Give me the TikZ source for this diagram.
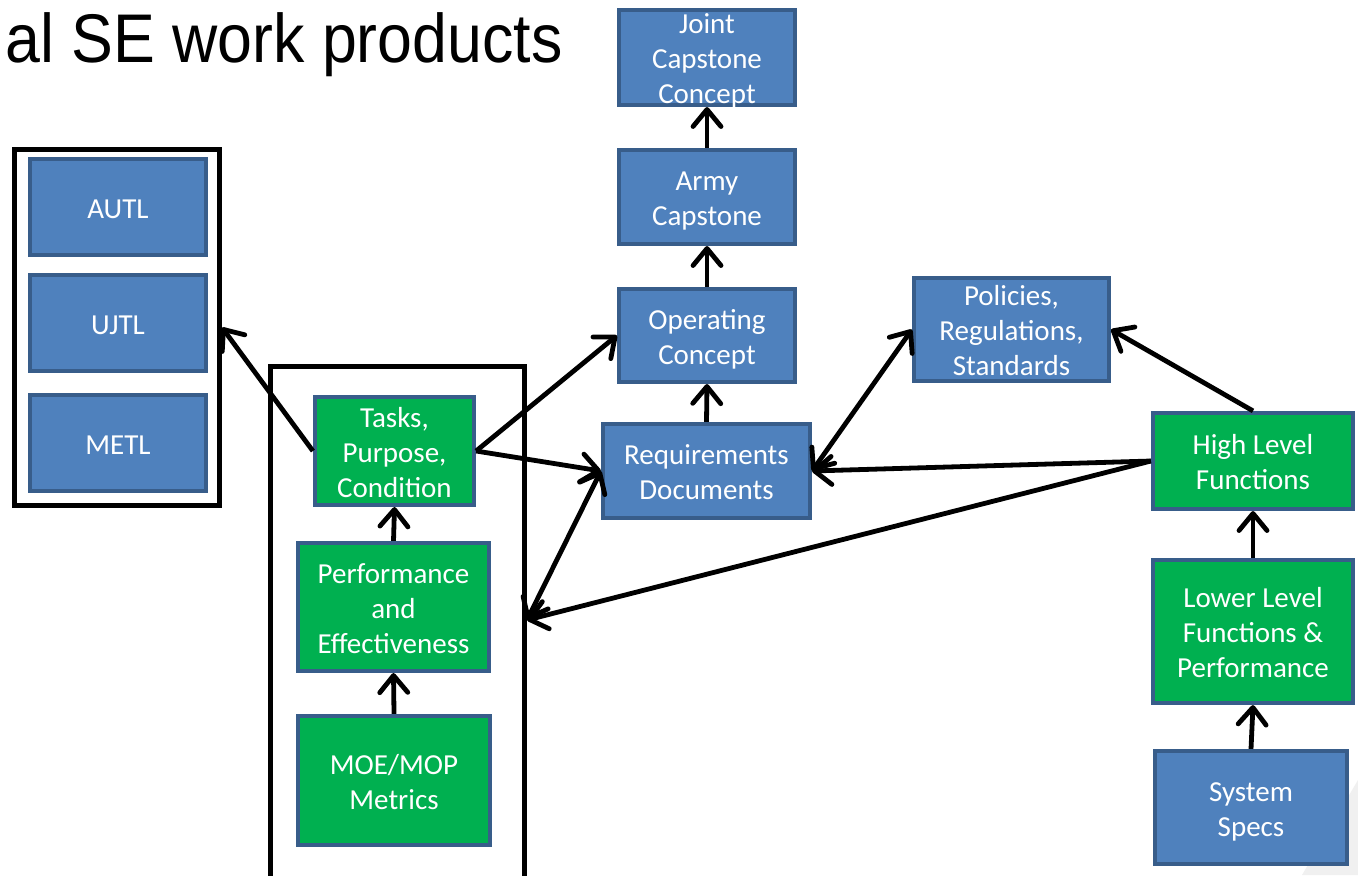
\documentclass[tikz,border=0pt]{standalone}
\usepackage{fontspec}
\setmainfont{Carlito}
\newfontfamily\titlefont[FakeStretch=0.955]{Liberation Sans}
\usetikzlibrary{arrows.meta,calc}

\definecolor{boxblue}{HTML}{4F81BD}
\definecolor{boxedge}{HTML}{385D8A}
\definecolor{boxgreen}{HTML}{00B050}

% centred stack of lines that takes no room, so long texts may spill over the frame
\newcommand\stack[1]{\raisebox{-5.75pt}[0pt][0pt]{\begin{tabular}{@{}c@{}}#1\end{tabular}}}

\tikzset{
  item/.style={draw=boxedge, line width=2.1pt, text=white,
    inner sep=0pt, font=\fontsize{14.5}{17.5}\selectfont},
  bluebox/.style={item, fill=boxblue},
  greenbox/.style={item, fill=boxgreen},
  frame/.style={draw=black, line width=2.5pt, inner sep=0pt},
  barb/.tip={Straight Barb[length=8.5pt,width=14pt,round]},
  link/.style={draw=black, line width=2.4pt, -barb},
  twoway/.style={draw=black, line width=2.4pt, barb-barb}
}

\begin{document}
\begin{tikzpicture}[x=0.5pt,y=-0.5pt]
\useasboundingbox (0,0) rectangle (1358,875);
\fill[white] (0,0) rectangle (1358,875);
% faint slide decoration in the lower right corner
\fill[black!6] (1358,780) -- (1302,875) -- (1358,875) -- cycle;

% heading
\node[anchor=base west, inner sep=0pt, yscale=1.05, font=\titlefont\fontsize{32.8}{36}\selectfont]
  (title) at (5,62) {al SE work products};

% task lists group
\node[frame, minimum width=102.5pt, minimum height=178pt] (grp1) at (117,327.5) {};
\node[bluebox, minimum width=88pt, minimum height=48pt] (autl) at (118,207) {\stack{AUTL}};
\node[bluebox, minimum width=88pt, minimum height=48pt] (ujtl) at (118,323) {\stack{UJTL}};
\node[bluebox, minimum width=88pt, minimum height=48pt] (metl) at (118,443) {\stack{METL}};

% task / performance group (runs off the bottom edge)
\node[frame, minimum width=127pt, minimum height=265.5pt] (grp2) at (397.5,632) {};
\node[greenbox, minimum width=79.5pt, minimum height=54pt] (tasks) at (394.5,451) {\stack{Tasks,\\Purpose,\\Condition}};
\node[greenbox, minimum width=95.5pt, minimum height=64pt] (perf) at (393.5,607) {\stack{Performance\\and\\Effectiveness}};
\node[greenbox, minimum width=96pt, minimum height=64.5pt] (moe) at (394,780.5) {\stack{MOE/MOP\\Metrics}};

% concept chain
\node[bluebox, minimum width=88pt, minimum height=47.5pt] (joint) at (707,57.5) {\stack{Joint\\Capstone\\Concept}};
\node[bluebox, minimum width=88pt, minimum height=47pt] (army) at (707,197) {\stack{Army\\Capstone}};
\node[bluebox, minimum width=88pt, minimum height=46.5pt] (oper) at (707,335.5) {\stack{Operating\\Concept}};
\node[bluebox, minimum width=103.5pt, minimum height=47pt] (req) at (706.5,471) {\stack{Requirements\\Documents}};
\node[bluebox, minimum width=97.5pt, minimum height=51.5pt] (pol) at (1011.5,329.5) {\stack{Policies,\\Regulations,\\Standards}};

% functional chain
\node[greenbox, minimum width=100pt, minimum height=48pt] (high) at (1253,461) {\stack{High Level\\Functions}};
\node[greenbox, minimum width=100pt, minimum height=71.5pt] (lower) at (1253,631.5) {\stack{Lower Level\\Functions \&\\Performance}};
\node[bluebox, minimum width=96pt, minimum height=56.5pt] (spec) at (1251,807.5) {\stack{System\\Specs}};

% connectors
\draw[link] (army.north) -- (joint.south);
\draw[link] (oper.north) -- (army.south);
\draw[link] (req.north) -- (oper.south);
\draw[link] (perf.north) -- (tasks.south);
\draw[link] (moe.north) -- (perf.south);
\draw[link] (lower.north) -- (high.south);
\draw[link] (spec.north) -- (lower.south);

\draw[link] (tasks.west) -- (grp1.east);
\draw[link] (tasks.east) -- (oper.west);
\draw[link] (tasks.east) -- (req.west);
\draw[twoway] ([yshift=6pt]grp2.east) -- (req.west);
\draw[twoway] (req.east) -- (pol.west);
\draw[link] (high.west) -- (req.east);
\draw[link] (high.west) -- ([yshift=6pt]grp2.east);
\draw[link] (high.north) -- (pol.east);
\end{tikzpicture}
\end{document}
